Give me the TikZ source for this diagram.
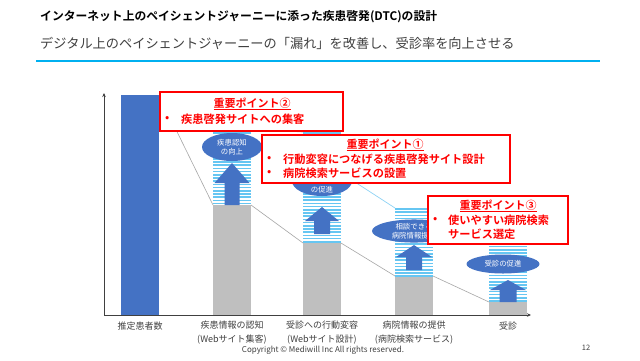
\documentclass[tikz,border=0pt]{standalone}
\usepackage{fontspec}
\setmainfont{Noto Sans CJK JP}[BoldFont={Noto Sans CJK JP Bold}]
\usetikzlibrary{shapes.geometric,arrows.meta}
\definecolor{barblue}{HTML}{4472C4}
\definecolor{bargray}{HTML}{BFBFBF}
\definecolor{stripeblue}{HTML}{66C6F2}
\definecolor{ptred}{HTML}{FF0000}
\definecolor{txtgray}{HTML}{404040}
\definecolor{linecyan}{HTML}{00B0F0}
\definecolor{linkgray}{HTML}{A6A6A6}
\definecolor{linkblue}{HTML}{8FD3F5}
\newcommand\bkarrow[6]{\fill[barblue] (#1,#2) -- (#1+#5,#3) -- (#1+#6,#3) -- (#1+#6,#4) -- (#1-#6,#4) -- (#1-#6,#3) -- (#1-#5,#3) -- cycle;}
\begin{document}
\begin{tikzpicture}[x=1pt,y=-1pt,
  rect/.style={rectangle, inner sep=0pt, outer sep=0pt, anchor=north west},
  bluebar/.style={rect, fill=barblue},
  graybar/.style={rect, fill=bargray},
  stripes/.style={rect, fill=white, path picture={
      \foreach \k in {0,3.2,...,120}
        \draw[stripeblue, line width=1.7pt]
          ([yshift={-\k pt-1pt}]path picture bounding box.north west) --
          ([yshift={-\k pt-1pt}]path picture bounding box.north east);}},
  ptbox/.style={rect, draw=ptred, line width=2.2pt, fill=white},
  pttitle/.style={font=\bfseries\fontsize{11}{13}\selectfont, text=ptred, inner sep=0pt},
  pttext/.style={font=\bfseries\fontsize{11.2}{13}\selectfont, text=ptred, inner sep=0pt, anchor=west},
  oval/.style={ellipse, fill=barblue, inner sep=0pt, text=white, font=\fontsize{7.4}{9.5}\selectfont, align=center},
  cat/.style={font=\fontsize{9}{14}\selectfont, text=txtgray, inner sep=0pt, align=center},
  axis/.style={draw=txtgray, line width=0.8pt, -{Stealth[length=4pt,width=3.5pt]}},
  glink/.style={draw=linkgray, line width=0.6pt},
  blink/.style={draw=linkblue, line width=0.7pt}]
\useasboundingbox[fill=white] (0,0) rectangle (640,360);

% header
\node[anchor=west, inner sep=0pt, font=\bfseries\fontsize{11.8}{14}\selectfont] (title) at (40,17) {インターネット上のペイシェントジャーニーに添った疾患啓発(DTC)の設計};
\node[anchor=west, inner sep=0pt, text=txtgray, font=\fontsize{13.2}{16}\selectfont] (subtitle) at (40,43) {デジタル上のペイシェントジャーニーの「漏れ」を改善し、受診率を向上させる};
\coordinate (hl) at (36,61);
\coordinate (hr) at (600,61);
\draw[linecyan, line width=2pt] (hl) -- (hr);

% axes
\coordinate (o) at (104,315);
\coordinate (yt) at (104,93);
\coordinate (xr) at (531,315);
\draw[axis] (o) -- (yt);
\draw[axis] (o) -- (xr);

% bars
\node[bluebar, minimum width=38pt, minimum height=220pt] (b1) at (121,95) {};
\node[graybar, minimum width=38pt, minimum height=110pt] (g2) at (213,205) {};
\node[graybar, minimum width=38pt, minimum height=72pt] (g3) at (303,243) {};
\node[graybar, minimum width=38pt, minimum height=39pt] (g4) at (395,276) {};
\node[graybar, minimum width=38pt, minimum height=13pt] (g5) at (489,302) {};
\node[stripes, minimum width=38pt, minimum height=76pt] (s2) at (213,129) {};
\node[stripes, minimum width=38pt, minimum height=111pt] (s3) at (303,132) {};
\node[stripes, minimum width=38pt, minimum height=68pt] (s4) at (395,208) {};
\node[stripes, minimum width=38pt, minimum height=66pt] (s5) at (489,236) {};
\coordinate (c3) at (341,173);

% connectors
\draw[glink] (b1.north east) -- (g2.north west);
\draw[glink] (g2.north east) -- (g3.north west);
\draw[glink] (g3.north east) -- (g4.north west);
\draw[glink] (g4.north east) -- (g5.north west);
\draw[blink] (s2.north east) -- (s3.north west);
\draw[blink] (c3) -- (s4.north west);
\draw[blink] (s4.north east) -- (s5.north west);

% arrows
\bkarrow{232}{163}{183}{205}{17.5}{7.5}
\bkarrow{322}{207}{221}{234}{17}{8}
\bkarrow{414}{245}{257}{270}{18}{8}
\bkarrow{508}{280}{290}{302}{18}{8.5}

% ovals
\node[oval, minimum width=60pt, minimum height=28pt] (e2) at (232,147) {疾患認知\\の向上};
\node[oval, minimum width=60pt, minimum height=30pt] (e3) at (322,181) {};
\node[inner sep=0pt, text=white, font=\fontsize{7.4}{9.5}\selectfont] (e3t) at (322,190) {の促進};
\node[oval, minimum width=84pt, minimum height=23pt] (e4) at (414,231) {相談できる\\病院情報提供};
\node[oval, minimum width=73pt, minimum height=19pt] (e5) at (503,264) {受診の促進};

% point boxes
\node[ptbox, minimum width=183pt, minimum height=39pt] (box2) at (160,92) {};
\node[pttitle] (t2) at (252,104) {\underline{重要ポイント②}};
\node[pttext] (d2) at (165,119) {•};
\node[pttext] (p2) at (181,119) {疾患啓発サイトへの集客};

\node[ptbox, minimum width=248pt, minimum height=48pt] (box1) at (262,135) {};
\node[pttitle] (t1) at (385,145) {\underline{重要ポイント①}};
\node[pttext] (d1a) at (267,159) {•};
\node[pttext] (p1a) at (283,159) {行動変容につなげる疾患啓発サイト設計};
\node[pttext] (d1b) at (267,173) {•};
\node[pttext] (p1b) at (283,173) {病院検索サービスの設置};

\node[ptbox, minimum width=140pt, minimum height=48pt] (box3) at (428,196) {};
\node[pttitle] (t3) at (498,206) {\underline{重要ポイント③}};
\node[pttext] (d3) at (433,220) {•};
\node[pttext] (p3a) at (448,220) {使いやすい病院検索};
\node[pttext] (p3b) at (448,234) {サービス選定};

% categories
\node[cat] (l1) at (140,326) {推定患者数};
\node[cat] (l2) at (232,333) {疾患情報の認知\\(Webサイト集客)};
\node[cat] (l3) at (322,333) {受診への行動変容\\(Webサイト設計)};
\node[cat] (l4) at (414,333) {病院情報の提供\\(病院検索サービス)};
\node[cat] (l5) at (508,326) {受診};

% footer
\node[inner sep=0pt, text=txtgray, font=\fontsize{8}{9}\selectfont] (copy) at (323,350) {Copyright © Mediwill Inc All rights reserved.};
\node[inner sep=0pt, text=txtgray, font=\fontsize{7.5}{8}\selectfont] (pg) at (586,348) {12};
\end{tikzpicture}
\end{document}
